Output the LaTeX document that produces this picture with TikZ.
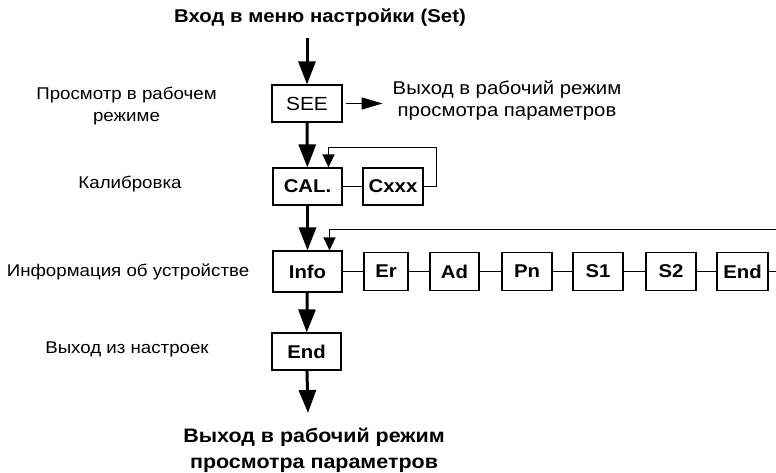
\documentclass[tikz,border=0pt]{standalone}
\usepackage{fontspec}
\setmainfont[FakeStretch=1.1]{Liberation Sans}
\usetikzlibrary{arrows.meta,positioning}

\begin{document}
\begin{tikzpicture}[x=1pt,y=-1pt,
  box/.style={draw,line width=1.2pt,inner sep=0pt,minimum height=37pt,font=\fontsize{19}{21}\selectfont},
  bbox/.style={box,font=\bfseries\fontsize{18.5}{21}\selectfont},
  lbl/.style={font=\fontsize{17}{22}\selectfont,align=center},
  bigarrow/.style={line width=3pt,-{Triangle[width=17pt,length=23pt]}},
  smallarrow/.style={line width=1.4pt,-{Triangle[width=12pt,length=13pt]}},
  link/.style={line width=1.2pt}]
  \clip (0,0) rectangle (776,473);
  \node[font=\bfseries\fontsize{18.5}{21}\selectfont] (title) at (320,18) {Вход в меню настройки (Set)};
  \node[box,minimum width=70pt] (see) at (307,103.5) {SEE};
  \node[lbl,font=\fontsize{18.5}{22}\selectfont] (seeout) at (507,101) {Выход в рабочий режим\\просмотра параметров};
  \node[bbox,minimum width=69pt] (cal) at (307.5,186.5) {CAL.};
  \node[bbox,minimum width=60pt] (cxxx) at (393,186.5) {Cxxx};
  \node[bbox,minimum width=69pt,minimum height=41pt] (info) at (307.5,271.5) {Info};
  \foreach \nm/\x/\w/\lab in {er/386/44/Er,ad/454.5/49/Ad,pn/527/50/Pn,sone/598/50/S1,stwo/671/50/S2,rend/742.5/51/End}
    \node[bbox,minimum width=\w pt,minimum height=38pt] (\nm) at (\x,271.5) {\lab};
  \node[bbox,minimum width=69pt] (end) at (306.5,351.5) {End};
  \node[lbl,font=\bfseries\fontsize{19.5}{26}\selectfont] (exit) at (314,450) {Выход в рабочий режим\\просмотра параметров};
  \coordinate (exittip) at (308,413);
  \node[lbl] (lsee) at (126.5,106) {Просмотр в рабочем\\режиме};
  \node[lbl] (lcal) at (130,184) {Калибровка};
  \node[lbl] (linfo) at (128,272) {Информация об устройстве};
  \node[lbl] (lend) at (127,349) {Выход из настроек};
  \draw[bigarrow] (see.north |- 0,38) -- (see.north);
  \draw[smallarrow,-{Triangle[width=12pt,length=21pt]}] ([xshift=3pt]see.east) -- ([xshift=40pt]see.east);
  \draw[bigarrow] (see) -- (cal);
  \draw[bigarrow] (cal) -- (info);
  \draw[bigarrow] (info) -- (end);
  \draw[bigarrow] (end) -- (exittip);
  \draw[link] (cal) -- (cxxx);
  \foreach \a/\b in {info/er,er/ad,ad/pn,pn/sone,sone/stwo,stwo/rend}
    \draw[link] (\a) -- (\b);
  \coordinate (calin) at ([xshift=21pt]cal.north);
  \coordinate (infoin) at ([xshift=22pt]info.north);
  \draw[smallarrow] (cxxx.east) -- ++(13,0) |- ([yshift=20pt]calin) -- (calin);
  \draw[smallarrow] (rend.east) -- ++(20,0) |- ([yshift=21pt]infoin) -- (infoin);
\end{tikzpicture}
\end{document}
